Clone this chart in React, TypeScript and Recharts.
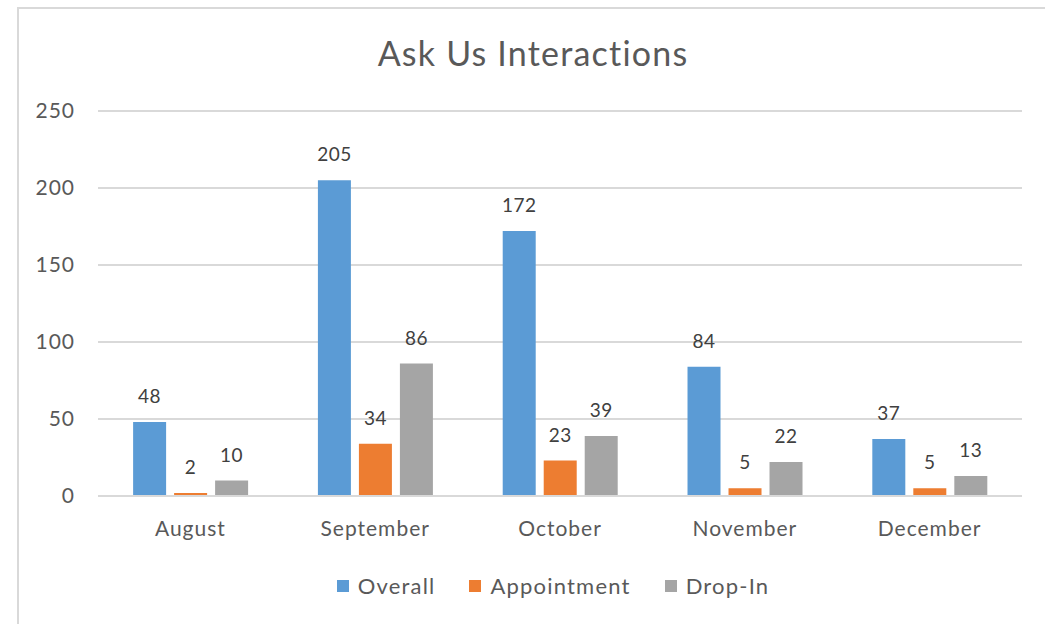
import { BarChart, Bar, XAxis, YAxis, CartesianGrid, LabelList } from 'recharts'

const months = ['August', 'September', 'October', 'November', 'December']
const overall = [48, 205, 172, 84, 37]
const appointment = [2, 34, 23, 5, 5]
const dropIn = [10, 86, 39, 22, 13]
const yTicks = [0, 50, 100, 150, 200, 250]

const series = [
  { key: 'overall', name: 'Overall', color: '#5B9BD5' },
  { key: 'appointment', name: 'Appointment', color: '#ED7D31' },
  { key: 'dropIn', name: 'Drop-In', color: '#A5A5A5' },
]

const data = months.map((m, i) => ({
  month: m,
  overall: overall[i],
  appointment: appointment[i],
  dropIn: dropIn[i],
}))

const font = 'Lato, "Open Sans", sans-serif'
const tick = { fontSize: 21, fill: '#595959', fontFamily: font, letterSpacing: 1 }

export default function App() {
  return (
    <div style={{ position: 'absolute', left: 0, top: 0, width: 1045, height: 624, background: '#fff', overflow: 'hidden', fontFamily: font }}>
      <div style={{ position: 'absolute', left: 17, top: 7, width: 1060, height: 640, border: '2px solid #D9D9D9', boxSizing: 'border-box' }} />
      <div style={{ position: 'absolute', left: 0, width: 1066, top: 32, textAlign: 'center', fontSize: 34, letterSpacing: 1.2, color: '#595959' }}>
        Ask Us Interactions
      </div>
      <div style={{ position: 'absolute', top: 0, left: 0 }}>
        <BarChart width={1045} height={624} data={data} margin={{ top: 111, right: 23, bottom: 98, left: 38 }}
          barCategoryGap="19%" barGap={8}>
          <CartesianGrid vertical={false} stroke="#D9D9D9" strokeWidth={2} />
          <XAxis dataKey="month" axisLine={{ stroke: '#D9D9D9', strokeWidth: 2 }} tickLine={false} tick={tick} tickMargin={19} height={30} />
          <YAxis domain={[0, 250]} ticks={yTicks} axisLine={false} tickLine={false} tick={tick} tickMargin={17} width={60} />
          {series.map(s => (
            <Bar key={s.key} dataKey={s.key} name={s.name} fill={s.color} isAnimationActive={false}>
              <LabelList dataKey={s.key} position="top" offset={19} style={{ fontSize: 19, fill: '#404040', fontFamily: font, letterSpacing: 0.5 }} />
            </Bar>
          ))}
        </BarChart>
      </div>
      <div style={{ position: 'absolute', top: 572, left: 0, width: 1106, display: 'flex', justifyContent: 'center', gap: 34, fontSize: 22, letterSpacing: 1.2, color: '#595959' }}>
        {series.map(s => (
          <div key={s.key} style={{ display: 'flex', alignItems: 'center' }}>
            <span style={{ width: 12, height: 12, background: s.color, display: 'inline-block', marginRight: 9 }} />
            {s.name}
          </div>
        ))}
      </div>
    </div>
  )
}
